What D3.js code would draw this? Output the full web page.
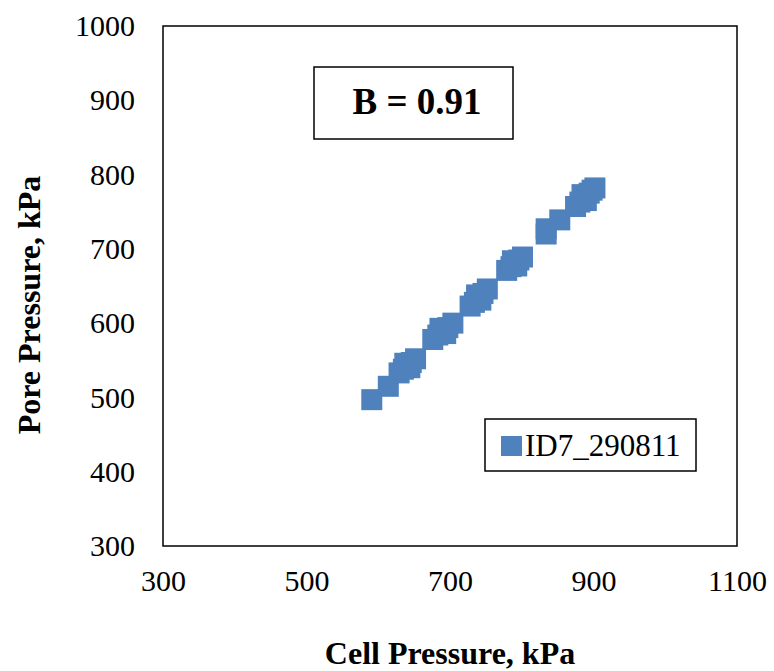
<!DOCTYPE html>
<html>
<head>
<meta charset="utf-8">
<script src="https://cdn.jsdelivr.net/npm/d3@7"></script>
<style>
  body { margin: 0; background: #fff; }
</style>
</head>
<body>
<div id="chart"></div>
<script>
// values
var cellPressure = [591, 614,
    629, 635, 637, 644, 646, 652,
    676, 683, 686, 694, 697, 704,
    728, 734, 737, 743, 746, 752,
    779, 785, 787, 793, 796, 801,
    834, 834, 853,
    875, 881, 884, 890, 894, 898, 902];
var porePressure = [497, 515,
    533, 538, 546, 540, 547, 552,
    578, 584, 593, 586, 594, 600,
    623, 628, 638, 631, 640, 646,
    671, 676, 684, 677, 685, 689,
    720, 727, 739,
    757, 763, 773, 765, 775, 779, 782];
var xTicks = [300, 500, 700, 900, 1100];
var yTicks = [300, 400, 500, 600, 700, 800, 900, 1000];
var seriesName = "ID7_290811";
var noteText = "B = 0.91";

var WIDTH = 774, HEIGHT = 671;
var margin = {left: 163, right: 37, top: 26, bottom: 125};
var color = "#4F81BD";
var FONT = "'Liberation Serif', 'Times New Roman', serif";

var svg = d3.select("#chart").append("svg")
    .attr("width", WIDTH)
    .attr("height", HEIGHT)
    .attr("font-family", FONT);

var x = d3.scaleLinear().domain([300, 1100]).range([margin.left, WIDTH - margin.right]);
var y = d3.scaleLinear().domain([300, 1000]).range([HEIGHT - margin.bottom, margin.top]);

// axes (labels only, frame drawn separately)
var xAxis = svg.append("g")
    .attr("transform", "translate(0," + (HEIGHT - margin.bottom) + ")")
    .call(d3.axisBottom(x).tickValues(xTicks).tickFormat(d3.format("d")).tickSize(0).tickPadding(24));
xAxis.attr("font-family", FONT).attr("font-size", 30);
xAxis.select(".domain").remove();
xAxis.selectAll("text").attr("fill", "#000");

var yAxis = svg.append("g")
    .attr("transform", "translate(" + margin.left + ",0)")
    .call(d3.axisLeft(y).tickValues(yTicks).tickFormat(d3.format("d")).tickSize(0).tickPadding(28));
yAxis.attr("font-family", FONT).attr("font-size", 30);
yAxis.select(".domain").remove();
yAxis.selectAll("text").attr("fill", "#000");

// plot frame
svg.append("rect")
    .attr("x", x(300)).attr("y", y(1000))
    .attr("width", x(1100) - x(300))
    .attr("height", y(300) - y(1000))
    .attr("fill", "none")
    .attr("stroke", "#000")
    .attr("stroke-width", 1.5);

// markers
var pts = cellPressure.map(function (d, i) { return [d, porePressure[i]]; });
var ms = 21;
svg.append("g").selectAll("rect")
    .data(pts).enter()
    .append("rect")
    .attr("x", function (d) { return x(d[0]) - ms / 2; })
    .attr("y", function (d) { return y(d[1]) - ms / 2; })
    .attr("width", ms)
    .attr("height", ms)
    .attr("fill", color);

// B annotation box
svg.append("rect")
    .attr("x", 314).attr("y", 67)
    .attr("width", 199).attr("height", 72)
    .attr("fill", "#fff").attr("stroke", "#000").attr("stroke-width", 1.5);
svg.append("text")
    .attr("x", 417).attr("y", 114)
    .attr("text-anchor", "middle")
    .attr("font-size", 37)
    .attr("font-weight", "bold")
    .text(noteText);

// legend
var lg = svg.append("g");
lg.append("rect")
    .attr("x", 485).attr("y", 419)
    .attr("width", 211).attr("height", 52)
    .attr("fill", "#fff").attr("stroke", "#000").attr("stroke-width", 1.5);
lg.append("rect")
    .attr("x", 501).attr("y", 436)
    .attr("width", 21).attr("height", 20)
    .attr("fill", color);
lg.append("text")
    .attr("x", 525).attr("y", 456)
    .attr("font-size", 31)
    .text(seriesName);

// axis titles
svg.append("text")
    .attr("x", (x(300) + x(1100)) / 2)
    .attr("y", 664)
    .attr("text-anchor", "middle")
    .attr("font-size", 32)
    .attr("font-weight", "bold")
    .text("Cell Pressure, kPa");

svg.append("text")
    .attr("transform", "translate(40,305) rotate(-90)")
    .attr("text-anchor", "middle")
    .attr("font-size", 32)
    .attr("font-weight", "bold")
    .text("Pore Pressure, kPa");
</script>
</body>
</html>
